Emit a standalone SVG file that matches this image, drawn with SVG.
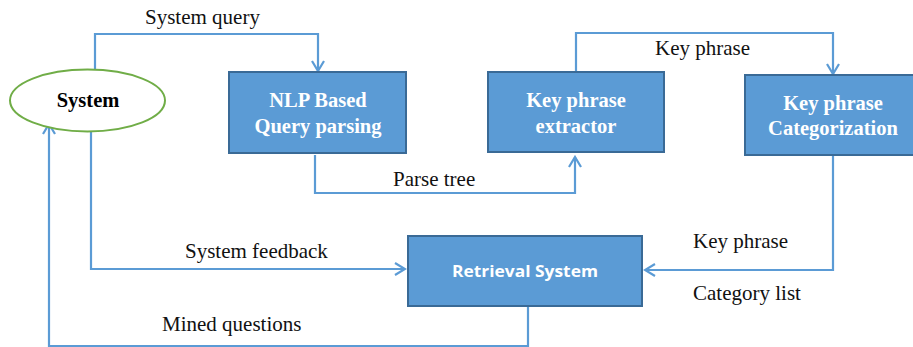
<svg xmlns="http://www.w3.org/2000/svg" width="913" height="347" viewBox="0 0 913 347">
<style>
.box{fill:#5B9BD5;stroke:#3A6A96;stroke-width:2}
.bt{font-family:"Liberation Serif",serif;font-weight:bold;font-size:20.5px;fill:#fff;text-anchor:middle}
.lbl{font-family:"Liberation Serif",serif;font-size:21px;fill:#111}
.c{fill:none;stroke:#5B9BD5;stroke-width:2.2}
</style>
<defs>
<marker id="ah" markerWidth="14" markerHeight="14" viewBox="0 0 14 14" refX="12" refY="7" orient="auto" markerUnits="userSpaceOnUse">
<path d="M2,1 L12,7 L2,13" fill="none" stroke="#5B9BD5" stroke-width="2.2"/>
</marker>
</defs>
<rect width="913" height="347" fill="#fff"/>
<g id="connectors">
<path class="c" d="M95,69 V34 H318 V71" marker-end="url(#ah)"/>
<path class="c" d="M315,155 V193 H575 V157" marker-end="url(#ah)"/>
<path class="c" d="M576,72 V33 H833 V74" marker-end="url(#ah)"/>
<path class="c" d="M833,155 V270 H645" marker-end="url(#ah)"/>
<path class="c" d="M91,132 V269 H405" marker-end="url(#ah)"/>
<path class="c" d="M528,306 V346 H49 V124" marker-end="url(#ah)"/>
<text class="lbl" x="145" y="24">System query</text>
<text class="lbl" x="393" y="186">Parse tree</text>
<text class="lbl" x="655" y="55">Key phrase</text>
<text class="lbl" x="693" y="248">Key phrase</text>
<text class="lbl" x="693" y="300">Category list</text>
<text class="lbl" x="185" y="258">System feedback</text>
<text class="lbl" x="162" y="331">Mined questions</text>
</g>
<g id="system">
<ellipse cx="87.5" cy="100.5" rx="77.5" ry="31" fill="#fff" stroke="#70AD47" stroke-width="2"/>
<text x="88" y="107" font-family="Liberation Serif,serif" font-weight="bold" font-size="20.5" text-anchor="middle" fill="#000">System</text>
</g>
<g id="nlp">
<rect class="box" x="229" y="72" width="177" height="81"/>
<text class="bt" x="318" y="107">NLP Based</text>
<text class="bt" x="318" y="133">Query parsing</text>
</g>
<g id="extractor">
<rect class="box" x="488" y="72" width="176" height="80"/>
<text class="bt" x="576" y="107">Key phrase</text>
<text class="bt" x="576" y="133">extractor</text>
</g>
<g id="categorization">
<rect class="box" x="745" y="75" width="175" height="80"/>
<text class="bt" x="833" y="110">Key phrase</text>
<text class="bt" x="833" y="135">Categorization</text>
</g>
<g id="retrieval">
<rect class="box" x="408" y="236" width="234" height="70"/>
<text x="525" y="277" font-family="Open Sans,sans-serif" font-weight="bold" font-size="16.5" fill="#fff" text-anchor="middle" textLength="146" lengthAdjust="spacingAndGlyphs">Retrieval System</text>
</g>
</svg>
